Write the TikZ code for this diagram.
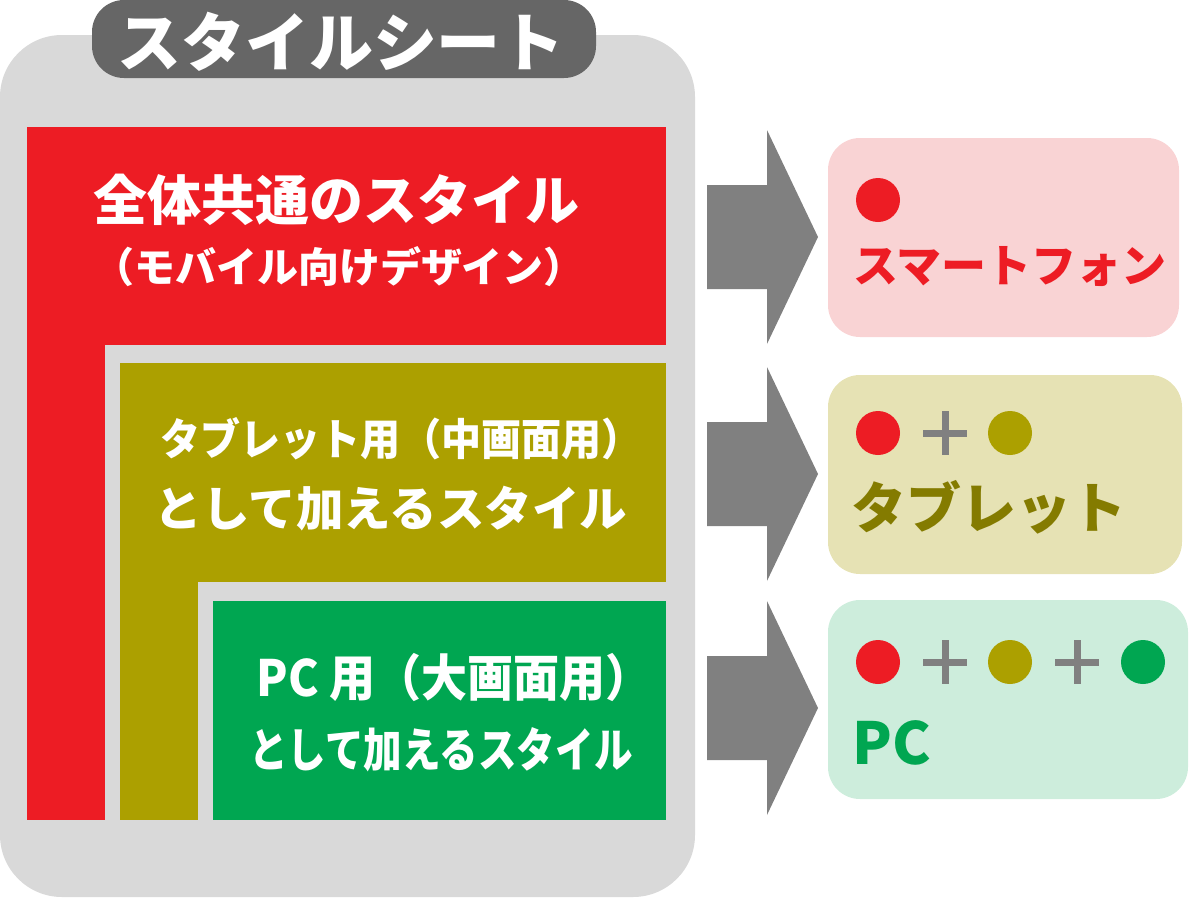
\documentclass[tikz,border=0pt]{standalone}
\usepackage{fontspec}
\setmainfont{Noto Sans CJK JP}
\newfontfamily\narrowjp{Noto Sans CJK JP}[FakeStretch=0.82]
\newfontfamily\slimjp{Noto Sans CJK JP}[FakeStretch=0.92]
\definecolor{sheetgray}{HTML}{D9D9D9}
\definecolor{tabgray}{HTML}{666666}
\definecolor{mobred}{HTML}{ED1C24}
\definecolor{tabolive}{HTML}{ACA000}
\definecolor{pcgreen}{HTML}{00A651}
\definecolor{arrowgray}{HTML}{808080}
\definecolor{mobpink}{HTML}{F9D3D4}
\definecolor{tabpale}{HTML}{E6E2B4}
\definecolor{pcpale}{HTML}{CDEDDC}
\definecolor{tabdark}{HTML}{847B00}
\begin{document}
\begin{tikzpicture}[x=1pt,y=-1pt,
    panel/.style={inner sep=0pt,outer sep=0pt,anchor=north west},
    result/.style={panel,rounded corners=32pt,minimum height=199pt},
    dot/.style={circle,inner sep=0pt,minimum size=44pt},
    plus/.style={line width=7pt,draw=arrowgray},
    white/.style={text=white,inner sep=0pt,font=\bfseries\fontsize{#1}{#1}\selectfont},
    tag/.style={inner sep=0pt,anchor=west,font=\bfseries\fontsize{#1}{#1}\selectfont}]
    \useasboundingbox (0,0) rectangle (1200,900);
    % style sheet
    \fill[sheetgray,rounded corners=62pt] (0,35) rectangle (695,897);
    \node[panel,fill=tabgray,rounded corners=32pt,minimum width=504pt,minimum height=78pt] (sheettab) at (92,0) {};
    \node[white=64] (sheettitle) at (341,42) {スタイルシート};
    \node[panel,fill=mobred,minimum width=639pt,minimum height=693pt] (mobile) at (27,127) {};
    \fill[sheetgray] (105,345) rectangle (666,820);
    \node[panel,fill=tabolive,minimum width=546pt,minimum height=457pt] (tablet) at (120,363) {};
    \fill[sheetgray] (198,582) rectangle (666,820);
    \node[panel,fill=pcgreen,minimum width=453pt,minimum height=219pt] (desktop) at (213,601) {};
    \node[white=54] (mobileline1) at (336,200) {全体共通のスタイル};
    \node[white=41] (mobileline2) at (339,267) {（モバイル向けデザイン）};
    \node[white=43.5,font=\slimjp\bfseries\fontsize{43.5}{43.5}\selectfont] (tabletline1) at (401,439) {タブレット用（中画面用）};
    \node[white=47.5] (tabletline2) at (391,509) {として加えるスタイル};
    \node[white=50,font=\slimjp\bfseries\fontsize{50}{50}\selectfont] (desktopline1) at (454,677) {PC 用（大画面用）};
    \node[white=47,font=\narrowjp\bfseries\fontsize{47}{47}\selectfont] (desktopline2) at (441,750) {として加えるスタイル};
    % arrows
    \foreach \yc in {237,474,708}
      \fill[arrowgray] (707,\yc-52) -- (767,\yc-52) -- (767,\yc-107) -- (818,\yc)
        -- (767,\yc+107) -- (767,\yc+52) -- (707,\yc+52) -- cycle;
    % results
    \node[result,fill=mobpink,minimum width=351pt] (smart) at (828,138) {};
    \node[dot,fill=mobred] (smartred) at (878,200) {};
    \node[tag=45,text=mobred] (smartlabel) at (853,267) {スマートフォン};
    \node[result,fill=tabpale,minimum width=354pt] (tab) at (828,375) {};
    \node[dot,fill=mobred] (tabred) at (878,433) {};
    \draw[plus] (923,433) -- (967,433) (945,411) -- (945,455);
    \node[dot,fill=tabolive] (tabolive) at (1010,433) {};
    \node[tag=55,text=tabdark] (tablabel) at (851,507) {タブレット};
    \node[result,fill=pcpale,minimum width=360pt] (pc) at (828,600) {};
    \node[dot,fill=mobred] (pcred) at (878,662) {};
    \draw[plus] (923,662) -- (967,662) (945,640) -- (945,684);
    \node[dot,fill=tabolive] (pcolive) at (1010,662) {};
    \draw[plus] (1055,662) -- (1099,662) (1077,640) -- (1077,684);
    \node[dot,fill=pcgreen] (pcgreen) at (1143,662) {};
    \node[tag=58,text=pcgreen] (pclabel) at (852,743) {PC};
\end{tikzpicture}
\end{document}
